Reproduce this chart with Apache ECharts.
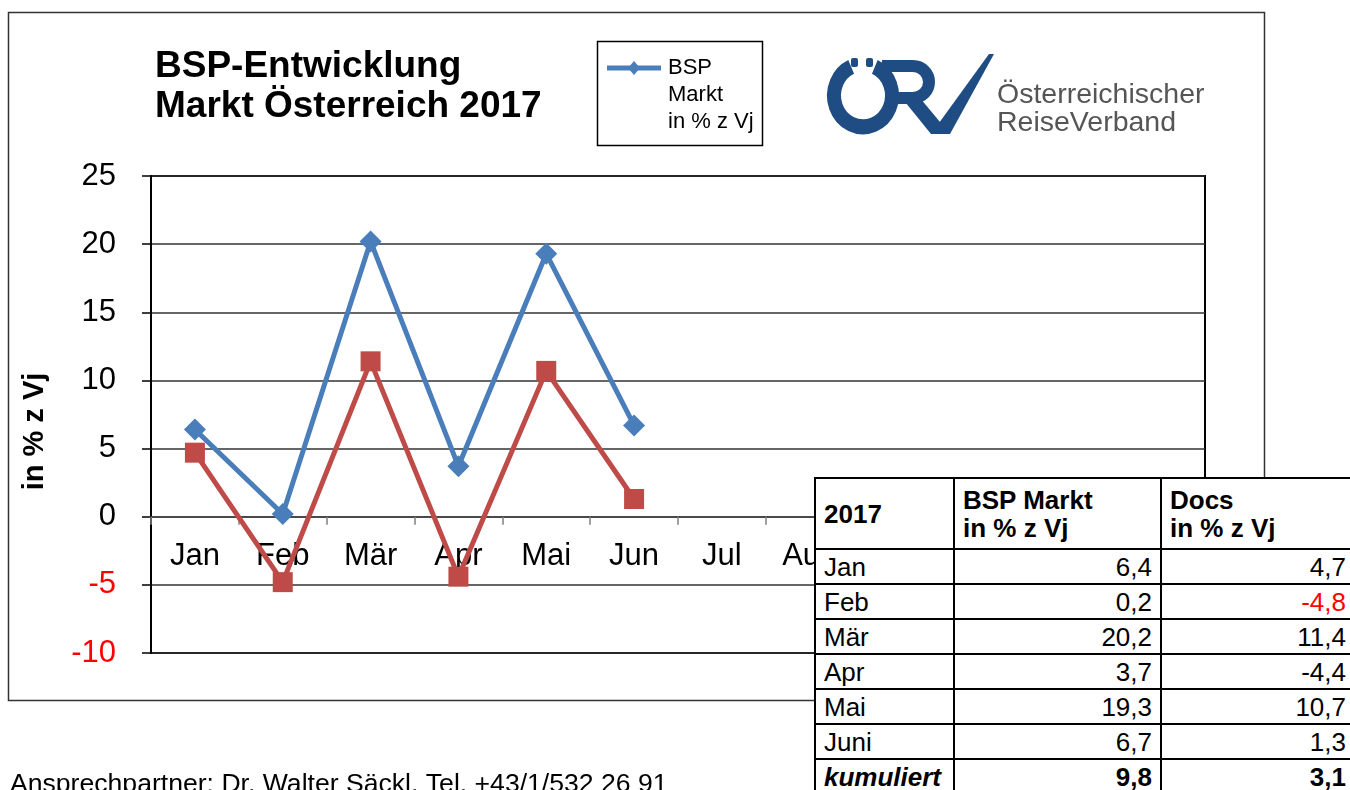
<!DOCTYPE html>
<html>
<head>
<meta charset="utf-8">
<title>BSP-Entwicklung Markt Österreich 2017</title>
<script src="https://cdn.jsdelivr.net/npm/echarts@6/dist/echarts.min.js"></script>
<style>
  html, body { margin: 0; padding: 0; background: #fff; overflow: hidden; width: 1350px; height: 790px; }
  #chart { position: absolute; left: 0; top: 0; width: 1350px; height: 790px; }
  #tbl {
    position: absolute; left: 814px; top: 477px; width: 545px; table-layout: fixed;
    border-collapse: collapse; background: #fff;
    font-family: "Liberation Sans", Arial, sans-serif; font-size: 26px; color: #000;
  }
  #tbl td { border: 2px solid #000; padding: 0 8px; height: 33px; line-height: 28px; white-space: nowrap; overflow: hidden; }
  #tbl tr.head td { height: 69px; font-weight: bold; vertical-align: middle; }
  #tbl td.num { text-align: right; }
  #tbl td.last { padding-right: 13px; }
  #tbl tr.sum td { font-weight: bold; }
  #tbl tr.sum td.lbl { font-style: italic; }
</style>
</head>
<body>
<div id="chart"></div>
<table id="tbl"><colgroup><col style="width:139px"><col style="width:207px"><col style="width:199px"></colgroup><tbody id="tbody"></tbody></table>
<script>
// Monate auf der x-Achse
const months = ['Jan', 'Feb', 'Mär', 'Apr', 'Mai', 'Jun', 'Jul', 'Aug', 'Sep', 'Okt', 'Nov', 'Dez'];
// BSP Markt in % z Vj
const bspMarkt = [6.4, 0.2, 20.2, 3.7, 19.3, 6.7];
// Docs in % z Vj
const docs = [4.7, -4.8, 11.4, -4.4, 10.7, 1.3];
// Tabelle
const tableMonths = ['Jan', 'Feb', 'Mär', 'Apr', 'Mai', 'Juni'];
const kumuliert = [9.8, 3.1];
const yTicks = [-10, -5, 0, 5, 10, 15, 20, 25];

const blue = '#4A7EBB';
const red = '#BE4B48';
const logoBlue = '#1F4C82';
const font = '"Liberation Sans", Arial, sans-serif';

function fmt(v) {
    return v.toFixed(1).replace('.', ',');
}

// Tabelle rechts unten
const tbody = document.getElementById('tbody');
let html = '<tr class="head"><td>2017</td><td>BSP Markt<br>in % z Vj</td><td>Docs<br>in % z Vj</td></tr>';
tableMonths.forEach(function (m, i) {
    const docColor = m === 'Feb' ? ' style="color:#ff0000"' : '';
    html += '<tr><td>' + m + '</td><td class="num">' + fmt(bspMarkt[i]) + '</td>' +
        '<td class="num last"' + docColor + '>' + fmt(docs[i]) + '</td></tr>';
});
html += '<tr class="sum"><td class="lbl">kumuliert</td><td class="num">' + fmt(kumuliert[0]) +
    '</td><td class="num last">' + fmt(kumuliert[1]) + '</td></tr>';
tbody.innerHTML = html;

const myChart = echarts.init(document.getElementById('chart'));
myChart.setOption({
    animation: false,
    backgroundColor: '#fff',
    textStyle: { fontFamily: font },
    title: {
        text: 'BSP-Entwicklung\nMarkt Österreich 2017',
        left: 150,
        top: 42,
        textStyle: { fontSize: 37, fontWeight: 'bold', color: '#000', lineHeight: 40, fontFamily: font }
    },
    grid: {
        left: 151, right: 145, top: 176, bottom: 137,
        show: true, borderColor: '#000', borderWidth: 2, backgroundColor: 'transparent'
    },
    xAxis: {
        type: 'category',
        data: months,
        boundaryGap: true,
        axisLine: { onZero: true, lineStyle: { color: '#404040', width: 1.5 } },
        axisTick: { show: true, length: 8, lineStyle: { color: '#808080', width: 1.5 } },
        // Beschriftung direkt unter der Nulllinie
        axisLabel: { fontSize: 31, color: '#000', margin: -112, interval: 0 },
        splitLine: { show: false }
    },
    yAxis: {
        type: 'value',
        min: yTicks[0],
        max: yTicks[yTicks.length - 1],
        interval: 5,
        name: 'in % z Vj',
        nameLocation: 'middle',
        nameGap: 102,
        nameRotate: 90,
        nameTextStyle: { fontSize: 29, fontWeight: 'bold', color: '#000', padding: [0, 34, 0, 0] },
        axisLine: { show: true, lineStyle: { color: '#000', width: 2 } },
        axisTick: { show: true, length: 9, lineStyle: { color: '#000', width: 1.5 } },
        axisLabel: {
            fontSize: 31,
            margin: 35,
            color: function (v) { return Number(v) < 0 ? '#ff0000' : '#000'; }
        },
        splitLine: { show: true, lineStyle: { color: '#333', width: 1.5 } }
    },
    series: [
        {
            name: 'BSP Markt in % z Vj',
            type: 'line',
            data: bspMarkt,
            symbol: 'diamond',
            symbolSize: 22,
            lineStyle: { color: blue, width: 5 },
            itemStyle: { color: blue },
            z: 3
        },
        {
            name: 'Docs in % z Vj',
            type: 'line',
            data: docs,
            symbol: 'rect',
            symbolSize: 20,
            lineStyle: { color: red, width: 5 },
            itemStyle: { color: red },
            z: 4
        }
    ],
    graphic: [
        // Rahmen des Diagramms
        {
            type: 'rect', z: -1,
            shape: { x: 8.5, y: 12.5, width: 1256, height: 688 },
            style: { fill: null, stroke: '#333', lineWidth: 1.5 }
        },
        // Legende (nur BSP)
        {
            type: 'rect',
            shape: { x: 597.5, y: 41.5, width: 165, height: 104 },
            style: { fill: '#fff', stroke: '#000', lineWidth: 1.5 }
        },
        {
            type: 'line',
            shape: { x1: 607, y1: 68, x2: 661, y2: 68 },
            style: { stroke: blue, lineWidth: 5 }
        },
        {
            type: 'polygon',
            shape: { points: [[634, 61], [640, 68], [634, 75], [628, 68]] },
            style: { fill: blue }
        },
        {
            type: 'text', x: 668, y: 95,
            style: {
                text: 'BSP\nMarkt\nin % z Vj', fill: '#000', font: '22px ' + font,
                lineHeight: 27, verticalAlign: 'middle', align: 'left'
            }
        },
        // Logo ÖRV
        {
            type: 'arc',
            shape: { cx: 863, cy: 95.5, r: 29, startAngle: -Math.PI / 2 + 0.42, endAngle: -Math.PI / 2 - 0.42 + Math.PI * 2, clockwise: true },
            style: { fill: null, stroke: logoBlue, lineWidth: 14 },
            scaleY: 1.08, originX: 863, originY: 95.5
        },
        { type: 'rect', shape: { x: 851, y: 58, width: 7, height: 9, r: 2 }, style: { fill: logoBlue } },
        { type: 'rect', shape: { x: 866, y: 58, width: 7, height: 9, r: 2 }, style: { fill: logoBlue } },
        {
            type: 'line',
            shape: { x1: 882, y1: 66, x2: 913, y2: 66 },
            style: { stroke: logoBlue, lineWidth: 12 }
        },
        {
            type: 'arc',
            shape: { cx: 913, cy: 82, r: 16, startAngle: -Math.PI / 2, endAngle: Math.PI / 2, clockwise: true },
            style: { fill: null, stroke: logoBlue, lineWidth: 12 }
        },
        {
            type: 'line',
            shape: { x1: 898, y1: 98, x2: 913, y2: 98 },
            style: { stroke: logoBlue, lineWidth: 12 }
        },
        {
            type: 'polygon',
            shape: { points: [[897, 92], [915, 92], [950, 134], [931, 134]] },
            style: { fill: logoBlue }
        },
        {
            type: 'polygon',
            shape: { points: [[931, 134], [950, 134], [994, 54], [989, 54]] },
            style: { fill: logoBlue }
        },
        {
            type: 'text', x: 997, y: 109,
            style: {
                text: 'Österreichischer\nReiseVerband', fill: '#555', font: '28.5px ' + font,
                lineHeight: 28, verticalAlign: 'middle', align: 'left'
            }
        },
        // Fußzeile
        {
            type: 'text', x: 10, y: 785,
            style: {
                text: 'Ansprechpartner: Dr. Walter Säckl, Tel. +43/1/532 26 91',
                fill: '#000', font: '26.6px ' + font, verticalAlign: 'middle', align: 'left'
            }
        }
    ]
});
</script>
</body>
</html>
